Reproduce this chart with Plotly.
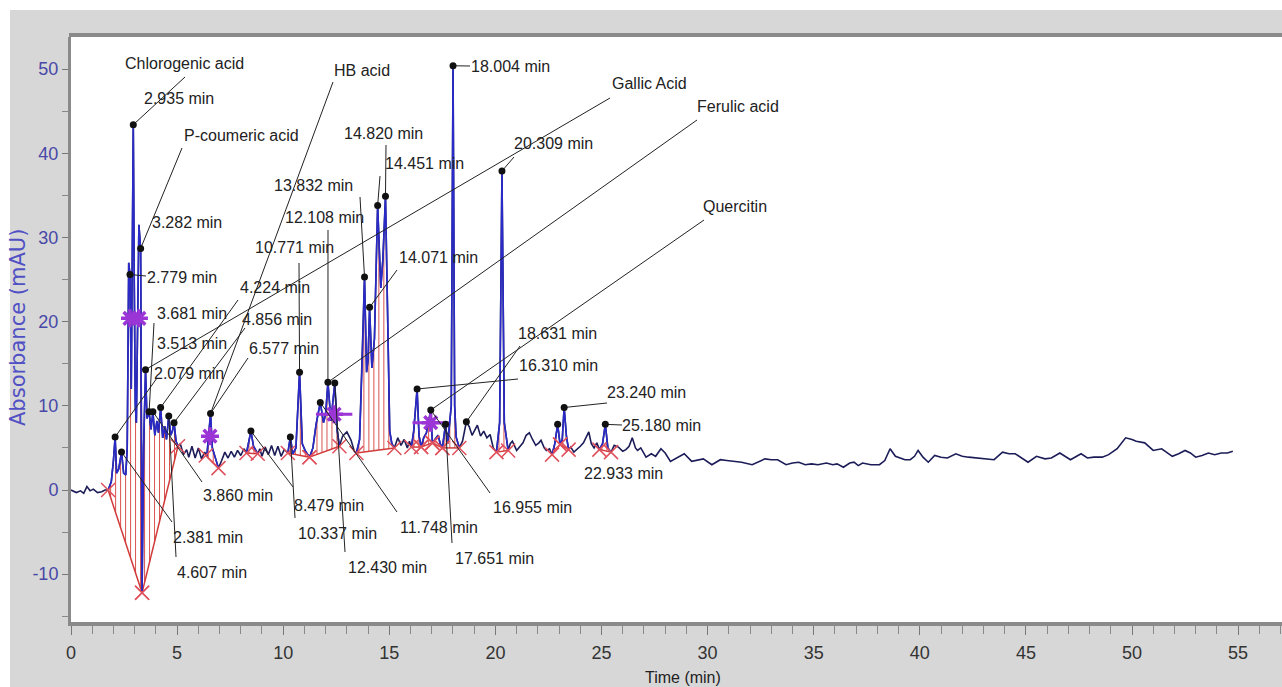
import numpy as np
import plotly.graph_objects as go

# ---------------- data ----------------
time_min = [
    0.00, 0.25, 0.45, 0.60, 0.75, 0.90, 1.05, 1.25, 1.45, 1.60,
    1.75, 1.90, 2.00, 2.079, 2.15, 2.25, 2.381, 2.48, 2.58, 2.65,
    2.72, 2.779, 2.84, 2.88, 2.935, 2.98, 3.03, 3.08, 3.14, 3.20,
    3.282, 3.35, 3.42, 3.513, 3.58, 3.681, 3.77, 3.860, 3.95, 4.05,
    4.12, 4.224, 4.32, 4.42, 4.50, 4.607, 4.70, 4.78, 4.856, 4.95,
    5.04, 5.15, 5.30, 5.45, 5.55, 5.70, 5.85, 6.00, 6.15, 6.30,
    6.40, 6.50, 6.577, 6.66, 6.80, 6.95, 7.10, 7.25, 7.40, 7.55,
    7.70, 7.85, 8.00, 8.15, 8.27, 8.479, 8.60, 8.80, 8.90, 9.00,
    9.15, 9.30, 9.45, 9.60, 9.75, 9.90, 10.05, 10.22, 10.337, 10.45,
    10.60, 10.771, 10.90, 11.05, 11.24, 11.40, 11.55, 11.748, 11.90, 12.00,
    12.108, 12.25, 12.430, 12.55, 12.65, 12.80, 13.00, 13.20, 13.35, 13.45,
    13.60, 13.72, 13.832, 13.93, 14.00, 14.071, 14.18, 14.30, 14.451, 14.60,
    14.70, 14.820, 14.92, 15.02, 15.12, 15.24, 15.40, 15.55, 15.70, 15.85,
    15.95, 16.04, 16.15, 16.310, 16.40, 16.50, 16.62, 16.75, 16.955, 17.03,
    17.15, 17.30, 17.40, 17.50, 17.651, 17.75, 17.92, 18.004, 18.08, 18.15,
    18.30, 18.45, 18.631, 18.77, 18.90, 19.00, 19.15, 19.30, 19.45, 19.60,
    19.75, 19.90, 20.05, 20.20, 20.309, 20.42, 20.60, 20.70, 20.80, 21.00,
    21.15, 21.30, 21.45, 21.60, 21.75, 21.90, 22.05, 22.15, 22.30, 22.40,
    22.55, 22.67, 22.80, 22.933, 23.05, 23.15, 23.240, 23.35, 23.45, 23.55,
    23.70, 23.85, 24.00, 24.15, 24.30, 24.40, 24.52, 24.65, 24.78, 24.90,
    25.05, 25.180, 25.30, 25.45, 25.60, 25.80, 26.00, 26.15, 26.30, 26.45,
    26.60, 26.70, 26.85, 27.10, 27.35, 27.55, 27.80, 28.00, 28.25, 28.55,
    28.90, 29.25, 29.55, 29.80, 30.20, 30.60, 30.90, 31.20, 31.60, 32.10,
    32.40, 32.70, 33.00, 33.30, 33.70, 34.00, 34.30, 34.60, 34.90, 35.20,
    35.60, 35.90, 36.10, 36.40, 36.70, 36.90, 37.10, 37.30, 37.70, 38.10,
    38.35, 38.60, 38.85, 39.05, 39.30, 39.55, 39.75, 39.92, 40.15, 40.40,
    40.70, 41.00, 41.30, 41.70, 42.00, 42.30, 42.80, 43.20, 43.50, 43.90,
    44.20, 44.50, 44.80, 45.10, 45.50, 45.90, 46.20, 46.60, 47.10, 47.30,
    47.60, 47.90, 48.20, 48.60, 48.90, 49.30, 49.50, 49.70, 50.00, 50.20,
    50.60, 51.00, 51.40, 51.90, 52.20, 52.50, 52.75, 53.00, 53.30, 53.60,
    53.90, 54.20, 54.50, 54.75,
]
absorbance = [
    0.0, -0.3, -0.1, -0.4, 0.4, -0.1, 0.1, -0.3, -0.2, 0.0,
    0.0, 1.0, 3.5, 6.3, 2.0, 2.5, 4.5, 2.0, 1.8, 5.0,
    27.0, 25.6, 12.0, 30.0, 43.4, 25.0, 10.0, 8.0, 22.0, 31.5,
    28.7, -12.0, 5.0, 14.3, 8.5, 9.3, 7.2, 9.3, 6.5, 8.2,
    6.8, 9.8, 6.2, 7.6, 6.0, 8.8, 6.5, 7.0, 8.0, 5.8,
    5.2, 5.5, 4.2, 4.8, 3.9, 5.2, 3.8, 5.0, 3.7, 4.5,
    4.0, 7.0, 9.1, 5.0, 3.8, 2.6, 3.5, 4.5, 3.8, 4.6,
    3.9, 4.7, 4.1, 4.9, 4.4, 7.0, 5.2, 4.3, 4.9, 4.0,
    5.1, 4.2, 5.3, 4.1, 5.2, 4.0, 4.8, 4.4, 6.3, 4.3,
    5.0, 14.0, 5.5, 4.6, 3.9, 5.0, 7.8, 10.4, 8.0, 9.0,
    12.8, 8.2, 12.7, 7.0, 5.2, 6.4, 6.9, 5.9, 4.6, 4.4,
    6.0, 15.0, 25.3, 14.0, 15.5, 21.7, 14.5, 18.0, 33.8, 24.0,
    27.5, 34.9, 18.0, 7.0, 5.5, 5.0, 6.2, 5.3, 6.0, 5.0,
    5.8, 5.1, 7.0, 12.0, 6.5, 5.1, 6.2, 6.8, 9.5, 5.6,
    6.0, 6.5, 5.5, 5.0, 7.8, 5.5, 10.0, 50.4, 10.0, 6.3,
    5.0, 5.8, 8.1, 7.5, 6.5, 7.0, 7.7, 6.4, 7.0, 6.2,
    6.6, 5.0, 4.5, 8.0, 37.9, 8.0, 4.7, 5.5, 5.8, 4.7,
    5.2, 5.6, 6.5, 6.8, 6.0, 5.3, 5.6, 5.9, 5.0, 4.7,
    4.9, 4.2, 5.5, 7.8, 5.4, 6.0, 9.8, 6.3, 4.8, 5.1,
    4.5, 4.8, 5.2, 5.6, 6.3, 6.9, 5.5, 5.0, 5.6, 4.8,
    5.5, 7.8, 5.0, 4.5, 5.3, 5.1, 4.6, 4.8, 5.2, 6.2,
    5.0, 4.7, 5.0, 3.9, 4.3, 4.0, 4.9, 4.4, 3.4, 3.8,
    4.3, 3.4, 3.6, 3.7, 3.0, 3.6, 3.5, 3.4, 3.3, 3.0,
    3.4, 3.7, 3.6, 3.6, 3.0, 3.2, 3.3, 3.0, 3.1, 3.0,
    3.2, 3.0, 3.1, 2.7, 3.2, 3.3, 2.9, 3.2, 3.0, 3.0,
    3.5, 4.9, 4.0, 3.8, 3.6, 3.6, 4.0, 4.7, 3.9, 3.3,
    4.1, 3.9, 3.8, 4.3, 4.0, 3.9, 3.8, 3.7, 3.6, 4.5,
    4.3, 4.3, 3.8, 3.3, 4.0, 3.7, 3.8, 4.4, 3.6, 3.9,
    4.3, 3.8, 3.9, 3.9, 4.2, 4.9, 5.5, 6.2, 6.0, 5.8,
    5.6, 4.7, 4.9, 4.0, 4.3, 4.7, 4.4, 3.9, 4.1, 4.4,
    4.2, 4.4, 4.4, 4.6,
]

peak_rt = [2.079, 2.381, 2.779, 2.935, 3.282, 3.513, 3.681, 3.860, 4.224, 4.607,
           4.856, 6.577, 8.479, 10.337, 10.771, 11.748, 12.108, 12.430, 13.832, 14.071,
           14.451, 14.820, 16.310, 16.955, 17.651, 18.004, 18.631, 20.309, 22.933, 23.240,
           25.180]
peak_height = [6.3, 4.5, 25.6, 43.4, 28.7, 14.3, 9.3, 9.3, 9.8, 8.8,
               8.0, 9.1, 7.0, 6.3, 14.0, 10.4, 12.8, 12.7, 25.3, 21.7,
               33.8, 34.9, 12.0, 9.5, 7.8, 50.4, 8.1, 37.9, 7.8, 9.8,
               7.8]

compound_names = ["Chlorogenic acid", "P-coumeric acid", "HB acid",
                  "Gallic Acid", "Ferulic acid", "Quercitin"]
compound_rt = [2.935, 3.282, 6.577, 3.513, 12.108, 16.955]

# integration baselines (start / end of each red baseline segment)
baseline_t0 = [1.75, 3.35, 6.35, 8.27, 10.22, 11.24, 13.45, 16.04, 16.50, 17.03, 17.50, 20.05, 22.67, 23.05, 24.90]
baseline_v0 = [0.0, -12.2, 4.1, 4.4, 4.4, 3.9, 4.4, 5.1, 5.1, 5.6, 5.0, 4.5, 4.2, 5.4, 4.8]
baseline_t1 = [3.35, 5.04, 6.95, 8.80, 11.24, 12.65, 15.24, 16.50, 17.03, 17.50, 18.30, 20.60, 23.05, 23.45, 25.45]
baseline_v1 = [-12.2, 5.2, 2.6, 4.3, 3.9, 5.2, 5.0, 5.1, 5.6, 5.0, 5.0, 4.7, 5.4, 4.8, 4.5]

# purple markers (identified standards)
star_t = [2.78, 3.20, 6.55, 12.40, 16.95]
star_v = [20.4, 20.4, 6.4, 9.0, 8.0]
bar_t = [12.40, 16.95]
bar_v = [9.0, 8.0]

# axis ticks
x_ticks = list(range(0, 60, 5))
y_ticks = list(range(-10, 60, 10))

# ---------------- geometry (pixel frame of the original screenshot) ----------------
W, H = 1282, 687
ML, MR, MT, MB = 71, 0, 37, 65
PX_PER_MIN = 21.22
PX_PER_MAU = 8.417
Y0_PX = 490
x_max = (W - ML - MR) / PX_PER_MIN
y_max = (Y0_PX - MT) / PX_PER_MAU
y_min = -(H - MB - Y0_PX) / PX_PER_MAU


def dx(px):
    return (px - ML) / PX_PER_MIN


def dy(py):
    return (Y0_PX - py) / PX_PER_MAU


LABEL_FONT = "Liberation Sans, Arial, sans-serif"
LBL_SIZE = 16

# label layout: (text centre x, y, leader start x, y) in pixels
compound_layout = {
    "Chlorogenic acid": (184, 63, 185, 77),
    "P-coumeric acid": (241, 135, 182, 148),
    "HB acid": (362, 70, 333, 82),
    "Gallic Acid": (649, 83, 610, 98),
    "Ferulic acid": (738, 106, 697, 120),
    "Quercitin": (735, 206, 704, 220),
}
rt_layout = {
    2.935: (179, 98, None, None),
    3.282: (187, 222, None, None),
    2.779: (182, 277, 146, 276),
    18.004: (510, 66, 470, 66),
    20.309: (553, 143, 514, 157),
    14.820: (383, 133, 386, 145),
    14.451: (424, 163, 380, 176),
    13.832: (313, 185, 360, 197),
    12.108: (324, 217, 328, 230),
    10.771: (294, 247, 299, 263),
    14.071: (438, 257, 397, 270),
    4.224: (275, 287, 238, 300),
    3.681: (192, 313, 154, 323),
    4.856: (277, 319, 245, 328),
    3.513: (192, 343, None, None),
    6.577: (284, 348, 248, 358),
    2.079: (189, 373, 157, 378),
    3.860: (238, 495, 202, 482),
    8.479: (329, 505, 293, 487),
    10.337: (337, 533, 295, 518),
    2.381: (208, 537, 172, 522),
    4.607: (212, 572, 176, 557),
    12.430: (387, 567, 345, 552),
    11.748: (439, 527, 397, 512),
    17.651: (494, 558, 452, 543),
    16.955: (532, 507, 490, 493),
    16.310: (558, 365, 518, 379),
    18.631: (557, 333, 520, 346),
    23.240: (646, 392, 607, 403),
    25.180: (661, 425, 622, 425),
    22.933: (623, 473, None, None),
}

peak_lookup = dict(zip(peak_rt, peak_height))
t_arr = np.array(time_min)
v_arr = np.array(absorbance)
assert len(time_min) == len(absorbance)

fig = go.Figure()

# integration hatch (vertical red lines between baseline and signal)
HATCH = 0.235
hx, hy = [], []
for t0, v0, t1, v1 in zip(baseline_t0, baseline_v0, baseline_t1, baseline_v1):
    for t in np.arange(t0 + HATCH / 2, t1, HATCH):
        b = v0 + (v1 - v0) * (t - t0) / (t1 - t0)
        s = float(np.interp(t, t_arr, v_arr))
        hx += [t, t, None]
        hy += [b, s, None]
fig.add_trace(go.Scatter(x=hx, y=hy, mode="lines",
                         line=dict(color="#d9534f", width=1), hoverinfo="skip"))

# baseline segments
bx, by = [], []
for t0, v0, t1, v1 in zip(baseline_t0, baseline_v0, baseline_t1, baseline_v1):
    bx += [t0, t1, None]
    by += [v0, v1, None]
fig.add_trace(go.Scatter(x=bx, y=by, mode="lines",
                         line=dict(color="#d23a3a", width=1.5), hoverinfo="skip"))

# full chromatogram (dark navy)
fig.add_trace(go.Scatter(x=time_min, y=absorbance, mode="lines",
                         line=dict(color="#1c1c58", width=1.6), hoverinfo="skip"))

# integrated regions in blue
inside = np.zeros(len(t_arr), dtype=bool)
for t0, t1 in zip(baseline_t0, baseline_t1):
    inside |= (t_arr >= t0 - 1e-9) & (t_arr <= t1 + 1e-9)
blue_y = [v if m else None for v, m in zip(absorbance, inside)]
fig.add_trace(go.Scatter(x=time_min, y=blue_y, mode="lines", connectgaps=False,
                         line=dict(color="#2a2ac8", width=1.6), hoverinfo="skip"))

# baseline X markers
mx = list(baseline_t0) + list(baseline_t1)
my = list(baseline_v0) + list(baseline_v1)
fig.add_trace(go.Scatter(x=mx, y=my, mode="markers",
                         marker=dict(symbol="x-thin-open", size=14, color="#e0505c",
                                     line=dict(color="#e0505c", width=1.5)),
                         hoverinfo="skip"))

# purple markers
PURPLE = "#9b35d6"
fig.add_trace(go.Scatter(x=bar_t, y=bar_v, mode="markers",
                         marker=dict(symbol="line-ew-open", size=26, color=PURPLE,
                                     line=dict(color=PURPLE, width=3)),
                         hoverinfo="skip"))
fig.add_trace(go.Scatter(x=star_t, y=star_v, mode="markers",
                         marker=dict(symbol="asterisk-open", size=15, color=PURPLE,
                                     line=dict(color=PURPLE, width=3.5)),
                         hoverinfo="skip"))

# leader lines
lx, ly = [], []
for name, rt in zip(compound_names, compound_rt):
    cx, cy, sx, sy = compound_layout[name]
    lx += [dx(sx), rt, None]
    ly += [dy(sy), peak_lookup[rt], None]
for rt in peak_rt:
    cx, cy, sx, sy = rt_layout[rt]
    if sx is None:
        continue
    lx += [dx(sx), rt, None]
    ly += [dy(sy), peak_lookup[rt], None]
fig.add_trace(go.Scatter(x=lx, y=ly, mode="lines",
                         line=dict(color="#222222", width=1), hoverinfo="skip"))

# apex dots
fig.add_trace(go.Scatter(x=peak_rt, y=peak_height, mode="markers",
                         marker=dict(symbol="circle", size=7, color="#111111"),
                         hoverinfo="skip"))

annotations = []
for name in compound_names:
    cx, cy, sx, sy = compound_layout[name]
    annotations.append(dict(x=dx(cx), y=dy(cy), xref="x", yref="y", text=name,
                            showarrow=False, xanchor="center", yanchor="middle",
                            font=dict(family=LABEL_FONT, size=LBL_SIZE, color="#222222")))
for rt in peak_rt:
    cx, cy, sx, sy = rt_layout[rt]
    annotations.append(dict(x=dx(cx), y=dy(cy), xref="x", yref="y", text=f"{rt:.3f} min",
                            showarrow=False, xanchor="center", yanchor="middle",
                            font=dict(family=LABEL_FONT, size=LBL_SIZE, color="#222222")))

plot_w = W - ML - MR
plot_h = H - MT - MB


def pxp(px):
    return (px - ML) / plot_w


def pyp(py):
    return (H - MB - py) / plot_h


annotations.append(dict(x=pxp(683), y=pyp(677), xref="paper", yref="paper",
                        text="Time (min)", showarrow=False, xanchor="center", yanchor="middle",
                        font=dict(family=LABEL_FONT, size=16, color="#222222")))
annotations.append(dict(x=pxp(18), y=pyp(328), xref="paper", yref="paper",
                        text="Absorbance (mAU)", showarrow=False, textangle=-90,
                        xanchor="center", yanchor="middle",
                        font=dict(family="DejaVu Sans, Verdana, sans-serif", size=21,
                                  color="#5050c4")))

shapes = [
    # white strips of the screenshot border
    dict(type="rect", xref="paper", yref="paper", x0=pxp(0), x1=pxp(W), y0=pyp(10), y1=pyp(0),
         fillcolor="white", line=dict(width=0), layer="above"),
    dict(type="rect", xref="paper", yref="paper", x0=pxp(0), x1=pxp(10), y0=pyp(H), y1=pyp(0),
         fillcolor="white", line=dict(width=0), layer="above"),
    # thick top frame line
    dict(type="line", xref="paper", yref="paper", x0=pxp(69), x1=1, y0=pyp(35), y1=pyp(35),
         line=dict(color="#8a8a8a", width=4), layer="above"),
]

fig.update_layout(
    width=W, height=H,
    margin=dict(l=ML, r=MR, t=MT, b=MB, pad=0),
    paper_bgcolor="#d7d7d7",
    plot_bgcolor="#ffffff",
    showlegend=False,
    hovermode=False,
    annotations=annotations,
    shapes=shapes,
    xaxis=dict(range=[0, x_max], tickmode="array", tickvals=x_ticks,
               ticktext=[str(v) for v in x_ticks],
               ticks="outside", ticklen=9, tickwidth=1, tickcolor="#777777",
               minor=dict(dtick=1, tick0=0, ticks="outside", ticklen=8, tickwidth=1,
                          tickcolor="#888888"),
               showline=True, linewidth=4, linecolor="#8a8a8a",
               showgrid=False, zeroline=False, ticklabelstandoff=2,
               tickfont=dict(family=LABEL_FONT, size=18, color="#333333")),
    yaxis=dict(range=[y_min, y_max], tickmode="array", tickvals=y_ticks,
               ticktext=[str(v) for v in y_ticks],
               ticks="outside", ticklen=6, tickwidth=1, tickcolor="#777777",
               minor=dict(dtick=5, tick0=0, ticks="outside", ticklen=6, tickwidth=1,
                          tickcolor="#888888"),
               showline=True, linewidth=3, linecolor="#8a8a8a",
               showgrid=False, zeroline=False,
               tickfont=dict(family=LABEL_FONT, size=18, color="#4848a8")),
)

fig.write_html("out.html", config={"displayModeBar": False},
               post_script="document.body.style.margin='0';document.body.style.overflow='hidden';")
